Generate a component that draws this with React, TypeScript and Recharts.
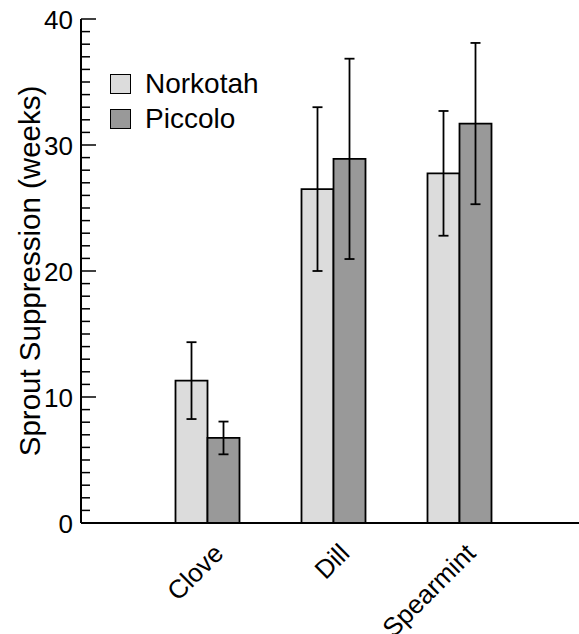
import { BarChart, Bar, XAxis, YAxis, ErrorBar, Legend, Label } from "recharts";

const CATEGORIES = ["Clove", "Dill", "Spearmint"];
const NORKOTAH = [11.3, 26.5, 27.75];
const NORKOTAH_ERR = [3.05, 6.5, 4.95];
const PICCOLO = [6.75, 28.9, 31.7];
const PICCOLO_ERR = [1.3, 7.95, 6.4];

const MAJOR_TICKS = [0, 10, 20, 30, 40];
// minor tick every week on both side axes
const ALL_TICKS = Array.from({ length: 41 }, (_, i) => i);

const FONT = '"Liberation Sans", Arial, Helvetica, sans-serif';

const data = CATEGORIES.map((name, i) => ({
  name,
  norkotah: NORKOTAH[i],
  norkotahErr: NORKOTAH_ERR[i],
  piccolo: PICCOLO[i],
  piccoloErr: PICCOLO_ERR[i]
}));

function LeftTick({ x, y, payload }: any) {
  const major = MAJOR_TICKS.includes(payload.value);
  return (
    <g>
      <line x1={x} y1={y} x2={x + (major ? 15 : 9)} y2={y} stroke="#000" strokeWidth={1.5} />
      {major && (
        <text x={x - 8} y={y} dy="0.38em" textAnchor="end" fontSize={26} fill="#000" fontFamily={FONT}>
          {payload.value}
        </text>
      )}
    </g>
  );
}

function RightTick({ x, y, payload }: any) {
  const major = MAJOR_TICKS.includes(payload.value);
  return <line x1={x - (major ? 10 : 3)} y1={y} x2={x} y2={y} stroke="#000" strokeWidth={1.5} />;
}

function TopTick({ x, y }: any) {
  return <line x1={x} y1={y} x2={x} y2={y + 14} stroke="#000" strokeWidth={1.5} />;
}

function BottomTick({ x, y, payload }: any) {
  const tx = x + 18;
  const ty = y + 32;
  return (
    <text
      x={tx}
      y={ty}
      textAnchor="end"
      fontSize={26}
      fill="#000"
      fontFamily={FONT}
      transform={`rotate(-45 ${tx} ${ty})`}
    >
      {payload.value}
    </text>
  );
}

function renderLegend(props: any) {
  const { payload } = props;
  return (
    <div style={{ fontFamily: FONT }}>
      {payload.map((p: any) => (
        <div key={p.value} style={{ display: "flex", alignItems: "center", height: 35 }}>
          <span
            style={{
              display: "inline-block",
              width: 19,
              height: 18,
              border: "1.5px solid #000",
              background: p.color
            }}
          />
          <span style={{ marginLeft: 14, fontSize: 28, lineHeight: 1, color: "#000" }}>{p.value}</span>
        </div>
      ))}
    </div>
  );
}

function YLabel({ viewBox }: any) {
  const cx = 29;
  const cy = viewBox.y + viewBox.height / 2;
  return (
    <text
      x={cx}
      y={cy}
      dy="0.36em"
      textAnchor="middle"
      fontSize={29.5}
      fill="#000"
      fontFamily={FONT}
      transform={`rotate(-90 ${cx} ${cy})`}
    >
      Sprout Suppression (weeks)
    </text>
  );
}

export default function App() {
  return (
    <div
      style={{
        position: "absolute",
        left: 0,
        top: 0,
        width: 579,
        height: 634,
        overflow: "hidden",
        background: "#fff",
        fontFamily: FONT
      }}
    >
      <BarChart
        width={579}
        height={634}
        data={data}
        margin={{ top: 19, right: 0, bottom: 11, left: 0 }}
        barGap={0}
        barCategoryGap="25%"
      >
        <XAxis
          xAxisId="bottom"
          dataKey="name"
          orientation="bottom"
          height={100}
          padding={{ left: 63, right: 57 }}
          axisLine={{ stroke: "#000", strokeWidth: 2 }}
          tickLine={false}
          tickSize={0}
          tickMargin={0}
          interval={0}
          tick={<BottomTick />}
        />
        <XAxis
          xAxisId="top"
          dataKey="name"
          orientation="top"
          height={0}
          padding={{ left: 63, right: 57 }}
          axisLine={{ stroke: "#000", strokeWidth: 2 }}
          tickLine={false}
          tickSize={0}
          tickMargin={0}
          interval={0}
          tick={<TopTick />}
        />
        <YAxis
          yAxisId="left"
          domain={[0, 40]}
          ticks={ALL_TICKS}
          interval={0}
          width={81}
          axisLine={{ stroke: "#000", strokeWidth: 2 }}
          tickLine={false}
          tickSize={0}
          tickMargin={0}
          tick={<LeftTick />}
        >
          <Label content={<YLabel />} />
        </YAxis>
        <YAxis
          yAxisId="right"
          orientation="right"
          domain={[0, 40]}
          ticks={ALL_TICKS}
          interval={0}
          width={0}
          axisLine={false}
          tickLine={false}
          tickSize={0}
          tickMargin={0}
          tick={<RightTick />}
        />
        <Legend
          layout="vertical"
          align="center"
          verticalAlign="middle"
          content={renderLegend}
          wrapperStyle={{ left: 110, top: 66, width: "auto" }}
        />
        <Bar
          xAxisId="bottom"
          yAxisId="left"
          dataKey="norkotah"
          name="Norkotah"
          fill="#dcdcdc"
          stroke="#000"
          strokeWidth={1.8}
          isAnimationActive={false}
        >
          <ErrorBar dataKey="norkotahErr" width={5} stroke="#000" strokeWidth={1.8} isAnimationActive={false} />
        </Bar>
        <Bar
          xAxisId="bottom"
          yAxisId="left"
          dataKey="piccolo"
          name="Piccolo"
          fill="#999999"
          stroke="#000"
          strokeWidth={1.8}
          isAnimationActive={false}
        >
          <ErrorBar dataKey="piccoloErr" width={5} stroke="#000" strokeWidth={1.8} isAnimationActive={false} />
        </Bar>
      </BarChart>
    </div>
  );
}
